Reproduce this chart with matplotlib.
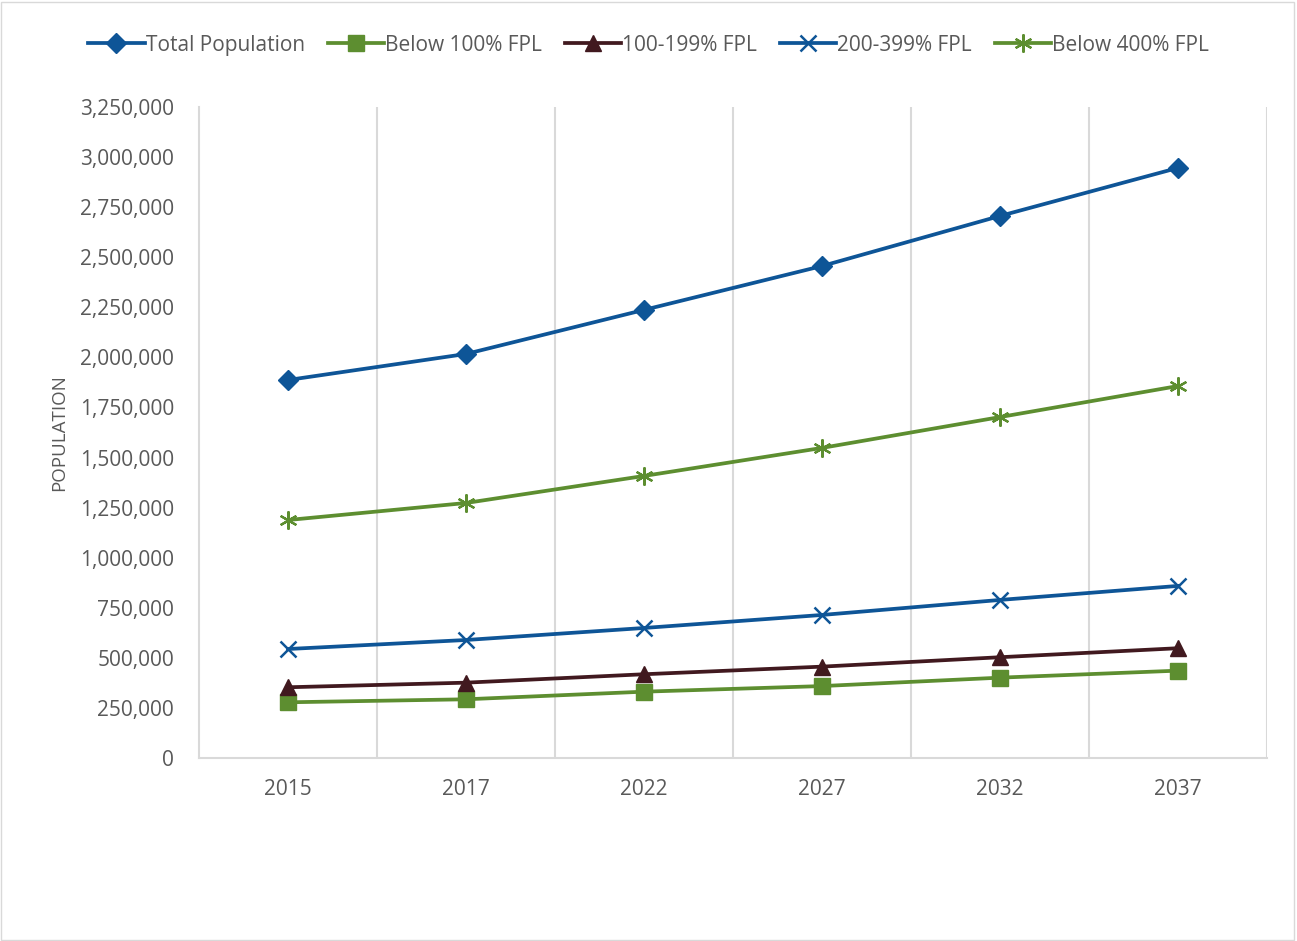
import matplotlib.pyplot as plt
from matplotlib.patches import Rectangle
from matplotlib.ticker import FuncFormatter, FixedLocator

# data
years = ['2015', '2017', '2022', '2027', '2032', '2037']
total_pop = [1887000, 2017000, 2237000, 2456000, 2706000, 2946000]
below_100 = [278000, 293000, 331000, 359000, 401000, 436000]
fpl_100_199 = [353000, 376000, 418000, 456000, 503000, 548000]
fpl_200_399 = [544000, 589000, 649000, 714000, 789000, 859000]
below_400 = [1188000, 1273000, 1408000, 1548000, 1702000, 1857000]

blue = '#0E5597'
green = '#5D8E30'
maroon = '#41191F'
grey_txt = '#595959'
grid_c = '#D9D9D9'

plt.rcParams['font.family'] = ['Open Sans', 'DejaVu Sans']

fig = plt.figure(figsize=(12.97, 9.41), dpi=100)
ax = fig.add_axes([0.1534, 0.1945, 0.8235, 0.6918])

x = range(len(years))
lw = 2.7
ax.plot(x, total_pop, color=blue, lw=lw, marker='D', ms=10, label='Total Population')
ax.plot(x, below_100, color=green, lw=lw, marker='s', ms=11, label='Below 100% FPL')
ax.plot(x, fpl_100_199, color=maroon, lw=lw, marker='^', ms=12, label='100-199% FPL')
ax.plot(x, fpl_200_399, color=blue, lw=lw, marker='x', ms=11, mew=1.8, label='200-399% FPL')
ax.plot(x, below_400, color=green, lw=lw, marker=(6, 2, 0), ms=13, mew=1.6, label='Below 400% FPL')

ax.set_xlim(-0.5, 5.5)
ax.set_ylim(0, 3250000)
ax.set_yticks(range(0, 3250001, 250000))
ax.yaxis.set_major_formatter(FuncFormatter(lambda v, p: f'{int(v):,}'))
ax.set_xticks(list(x))
ax.set_xticklabels(years)
ax.xaxis.set_minor_locator(FixedLocator([i + 0.5 for i in range(6)]))
ax.grid(True, which='minor', axis='x', color=grid_c, lw=1.5)
ax.tick_params(axis='both', which='both', length=0, colors=grey_txt, labelsize=15)
ax.tick_params(axis='x', pad=15)
ax.tick_params(axis='y', pad=18)

for s in ['top', 'right']:
    ax.spines[s].set_visible(False)
for s in ['left', 'bottom']:
    ax.spines[s].set_color(grid_c)
    ax.spines[s].set_linewidth(1.5)

ax.set_ylabel('POPULATION', color=grey_txt, fontsize=13.5, labelpad=8)

fig.legend(loc='center', bbox_to_anchor=(0.5, 0.952), ncol=5, frameon=False,
           fontsize=15, handlelength=2.7, handletextpad=0.05, columnspacing=1.1,
           labelcolor=grey_txt)

fig.add_artist(Rectangle((0.001, 0.001), 0.997, 0.997, transform=fig.transFigure,
                         fill=False, edgecolor=grid_c, lw=1))

fig.savefig('out.png', dpi=100)
